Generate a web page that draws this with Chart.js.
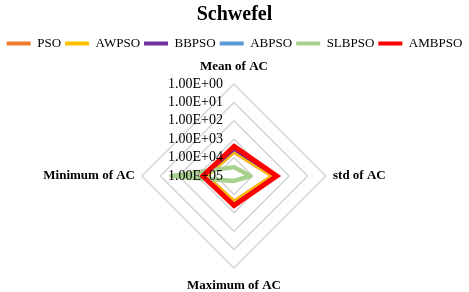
<!DOCTYPE html>
<html>
<head>
<meta charset="utf-8">
<script src="https://cdn.jsdelivr.net/npm/chart.js@4"></script>
<style>
  html, body { margin: 0; padding: 0; background: #fff; }
  #wrap { width: 469px; height: 292px; }
</style>
</head>
<body>
<div id="wrap"><canvas id="myChart"></canvas></div>
<script>
const categories = ['Mean of AC', 'std of AC', 'Maximum of AC', 'Minimum of AC'];
const seriesNames = ['PSO', 'AWPSO', 'BBPSO', 'ABPSO', 'SLBPSO', 'AMBPSO'];
// values (log axis, 1e5 at centre)
const psoValues    = [5200, 900, 4400, 3400];
const awpsoValues  = [4900, 850, 4150, 3240];
const bbpsoValues  = [3650, 560, 2900, 2300];
const abpsoValues  = [2600, 560, 2900, 2300];
const slbpsoValues = [33000, 12600, 54000, 40];
const ambpsoValues = [2450, 475, 2500, 2000];
const tickLabels = ['1.00E+00', '1.00E+01', '1.00E+02', '1.00E+03', '1.00E+04', '1.00E+05'];

const colors = ['#ED7D31', '#FFC000', '#7030A0', '#5B9BD5', '#A9D18E', '#FF0000'];
const widths = [3, 3, 3, 3, 4.5, 5];
const allValues = [psoValues, awpsoValues, bbpsoValues, abpsoValues, slbpsoValues, ambpsoValues];

const serif = "'Times New Roman', 'Liberation Serif', serif";
const pad = ' '.repeat(22);

const datasets = seriesNames.map((name, i) => ({
    label: name,
    data: allValues[i].map(v => Math.log10(v)),
    borderColor: colors[i],
    backgroundColor: colors[i],
    borderWidth: widths[i],
    borderJoinStyle: name === 'SLBPSO' ? 'round' : 'miter',
    pointRadius: 0,
    fill: false,
    order: seriesNames.length - 1 - i
}));

const ctx = document.getElementById('myChart').getContext('2d');
const myChart = new Chart(ctx, {
    type: 'radar',
    data: {
        labels: categories,
        datasets: datasets
    },
    options: {
        responsive: true,
        maintainAspectRatio: false,
        animation: false,
        devicePixelRatio: 1,
        layout: { padding: { top: 4, bottom: -5 } },
        plugins: {
            title: {
                display: true,
                text: 'Schwefel',
                color: '#000',
                font: { family: serif, size: 20, weight: 'bold' },
                padding: { top: -1, bottom: 6 }
            },
            legend: {
                position: 'top',
                labels: {
                    color: '#000',
                    font: { family: serif, size: 13 },
                    boxWidth: 24,
                    boxHeight: 4,
                    padding: 4,
                    sort: (a, b) => a.datasetIndex - b.datasetIndex,
                    generateLabels: function (chart) {
                        const items = Chart.defaults.plugins.legend.labels.generateLabels(chart);
                        items.forEach(it => { it.lineWidth = 0; });
                        return items;
                    }
                }
            },
            tooltip: { enabled: false }
        },
        scales: {
            r: {
                min: 0,
                max: 5,
                reverse: true,
                angleLines: { display: false },
                grid: { color: '#d2d2d2', lineWidth: 1.4 },
                ticks: {
                    stepSize: 1,
                    z: 1,
                    showLabelBackdrop: false,
                    backdropPadding: 0,
                    color: '#000',
                    font: { family: serif, size: 14 },
                    callback: v => (tickLabels[v] || '') + pad
                },
                pointLabels: {
                    color: '#000',
                    font: { family: serif, size: 13, weight: 'bold', lineHeight: 1 },
                    padding: c => (c.index % 2 ? 0 : 4)
                }
            }
        }
    }
});
</script>
</body>
</html>
